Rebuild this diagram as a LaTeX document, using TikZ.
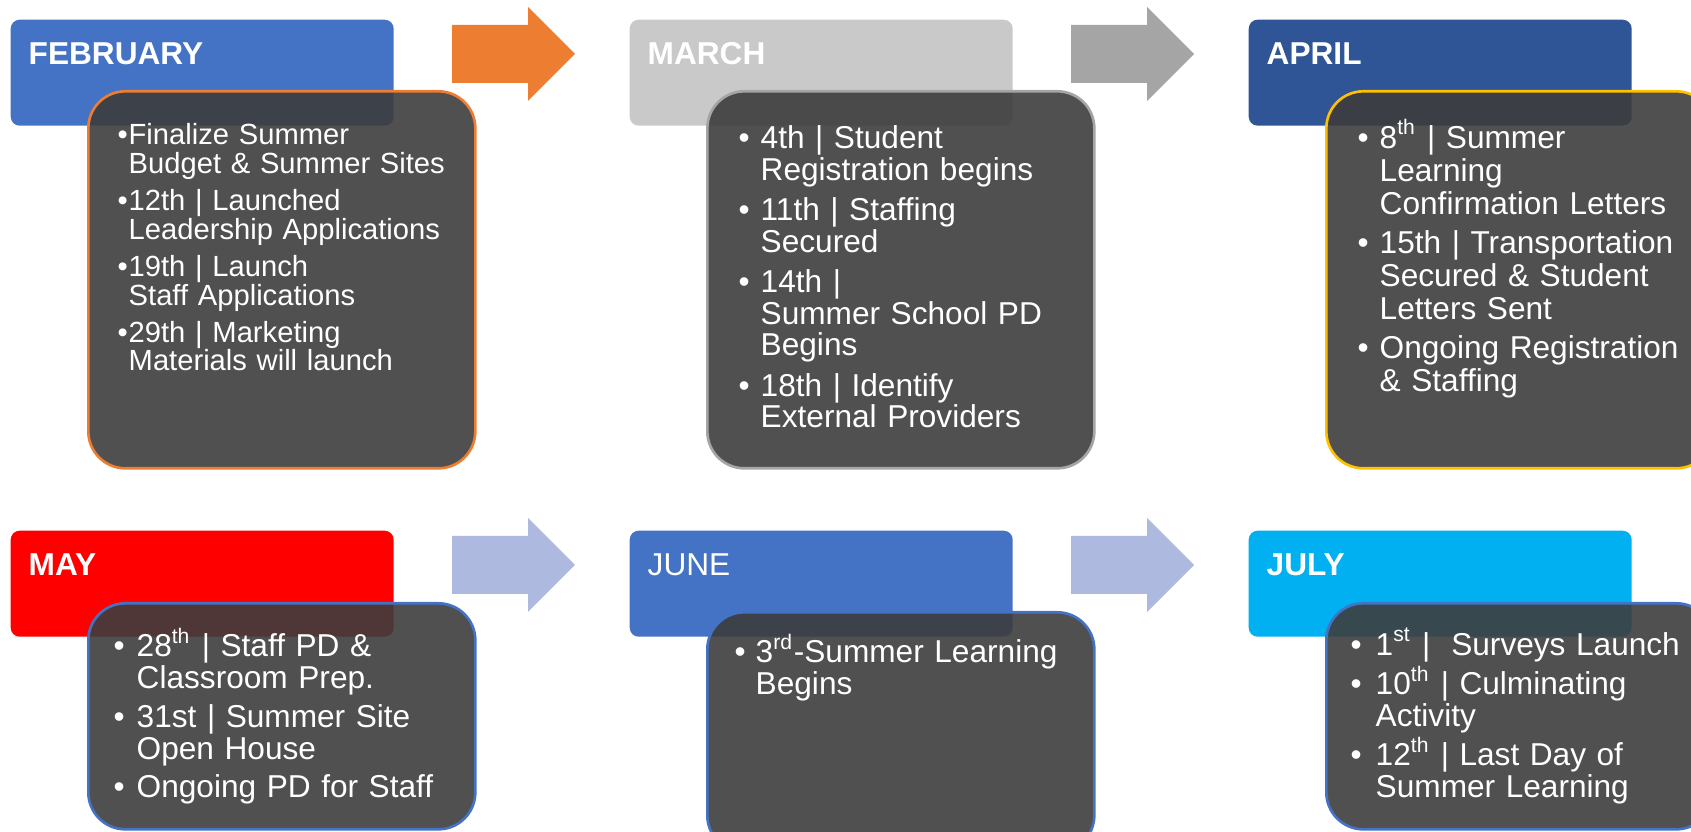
\documentclass[tikz,border=0pt]{standalone}
\usepackage{fontspec}
\setmainfont{Liberation Sans}

\definecolor{febblue}{HTML}{4472C4}
\definecolor{marchgray}{HTML}{C9C9C9}
\definecolor{aprilblue}{HTML}{2F5597}
\definecolor{mayred}{HTML}{FF0000}
\definecolor{julycyan}{HTML}{00B0F0}
\definecolor{orangeline}{HTML}{ED7D31}
\definecolor{grayline}{HTML}{A5A5A5}
\definecolor{goldline}{HTML}{FFC000}
\definecolor{paleblue}{HTML}{ADB9DE}
\definecolor{cardgray}{HTML}{3D3D3D}

\newlength{\bulw}
\newcommand{\itemgap}[2]{\setlength{\bulw}{#1}\setlength{\parskip}{#2}\lineskiplimit=-\maxdimen\ignorespaces}
\newcommand{\bul}[1]{\par\hangindent=\bulw\hangafter=1\noindent\color{white}\makebox[\bulw][l]{\textbullet}#1\par}

\tikzset{
    head/.style={anchor=north west, rounded corners=0.09cm, minimum width=3.83cm, minimum height=1.06cm, inner sep=0pt},
    month/.style={anchor=base west, inner sep=0pt, text=white, font=\bfseries\fontsize{9}{11}\selectfont},
    card/.style={anchor=north west, rounded corners=0.37cm, minimum width=3.87cm, minimum height=3.77cm, inner sep=0pt, fill=cardgray, fill opacity=0.9, line width=0.75pt},
    list/.style={anchor=base west, inner sep=0pt, text width=3.7cm, align=left, font=\fontsize{9}{9}\selectfont}
}

\begin{document}
\begin{tikzpicture}
        \useasboundingbox (0, 0) rectangle (16.91, -8.32);

        % arrows
        \fill[orangeline, shift={(4.52, -0.54)}] (0, 0.29) -- (0.76, 0.29) -- (0.76, 0.47) -- (1.23, 0) -- (0.76, -0.47) -- (0.76, -0.29) -- (0, -0.29) -- cycle;
        \fill[grayline, shift={(10.71, -0.54)}] (0, 0.29) -- (0.76, 0.29) -- (0.76, 0.47) -- (1.23, 0) -- (0.76, -0.47) -- (0.76, -0.29) -- (0, -0.29) -- cycle;
        \fill[paleblue, shift={(4.52, -5.65)}] (0, 0.29) -- (0.76, 0.29) -- (0.76, 0.47) -- (1.23, 0) -- (0.76, -0.47) -- (0.76, -0.29) -- (0, -0.29) -- cycle;
        \fill[paleblue, shift={(10.71, -5.65)}] (0, 0.29) -- (0.76, 0.29) -- (0.76, 0.47) -- (1.23, 0) -- (0.76, -0.47) -- (0.76, -0.29) -- (0, -0.29) -- cycle;

        % first row
        \node[head, fill=febblue] at (0.10, -0.19)(feb){};
        \node[month] at (0.28, -0.65)(febl){FEBRUARY};
        \node[card, draw=orangeline] at (0.87, -0.90)(febc){};
        \node[list, text width=3.6cm, font=\fontsize{8.3}{8.2}\selectfont] at (1.17, -1.08)(febx){\itemgap{0.11cm}{2.3pt}%
            \bul{Finalize Summer\newline Budget \& Summer Sites}%
            \bul{12th | Launched\newline Leadership Applications}%
            \bul{19th | Launch\newline Staff Applications}%
            \bul{29th | Marketing\newline Materials will launch}};

        \node[head, fill=marchgray] at (6.29, -0.19)(mar){};
        \node[month] at (6.47, -0.65)(marl){MARCH};
        \node[card, draw=grayline] at (7.06, -0.90)(marc){};
        \node[list] at (7.38, -1.08)(marx){\itemgap{0.22cm}{2.5pt}%
            \bul{4th | Student\newline Registration begins}%
            \bul{11th | Staffing\newline Secured}%
            \bul{14th |\newline Summer School PD\newline Begins}%
            \bul{18th | Identify\newline External Providers}};

        \node[head, fill=aprilblue] at (12.48, -0.19)(apr){};
        \node[month] at (12.66, -0.65)(aprl){APRIL};
        \node[card, draw=goldline] at (13.25, -0.90)(aprc){};
        \node[list, font=\fontsize{9}{9.4}\selectfont] at (13.57, -1.09)(aprx){\itemgap{0.22cm}{1.7pt}%
            \bul{8\textsuperscript{th} | Summer\newline Learning\newline Confirmation Letters}%
            \bul{15th | Transportation\newline Secured \& Student\newline Letters Sent}%
            \bul{Ongoing Registration\newline \& Staffing}};

        % second row
        \node[head, fill=mayred] at (0.10, -5.30)(may){};
        \node[month] at (0.28, -5.76)(mayl){MAY};
        \node[card, draw=febblue, minimum height=2.26cm] at (0.87, -6.02)(mayc){};
        \node[list, font=\fontsize{9}{9.1}\selectfont] at (1.13, -6.18)(mayx){\itemgap{0.23cm}{1.9pt}%
            \bul{28\textsuperscript{th} | Staff PD \&\newline Classroom Prep.}%
            \bul{31st | Summer Site\newline Open House}%
            \bul{Ongoing PD for Staff}};

        \node[head, fill=febblue] at (6.29, -5.30)(jun){};
        \node[month, font=\fontsize{9}{11}\selectfont] at (6.47, -5.76)(junl){JUNE};
        \node[card, draw=febblue, minimum height=2.4cm] at (7.06, -6.11)(junc){};
        \node[list] at (7.34, -6.24)(junx){\itemgap{0.21cm}{2pt}%
            \bul{3\textsuperscript{rd}-Summer Learning\newline Begins}};

        \node[head, fill=julycyan] at (12.48, -5.30)(jul){};
        \node[month] at (12.66, -5.76)(jull){JULY};
        \node[card, draw=febblue, minimum height=2.26cm] at (13.25, -6.02)(julc){};
        \node[list] at (13.50, -6.16)(julx){\itemgap{0.25cm}{2.2pt}%
            \bul{1\textsuperscript{st} |~ Surveys Launch}%
            \bul{10\textsuperscript{th} | Culminating\newline Activity}%
            \bul{12\textsuperscript{th} | Last Day of\newline Summer Learning}};
    \end{tikzpicture}
\end{document}
